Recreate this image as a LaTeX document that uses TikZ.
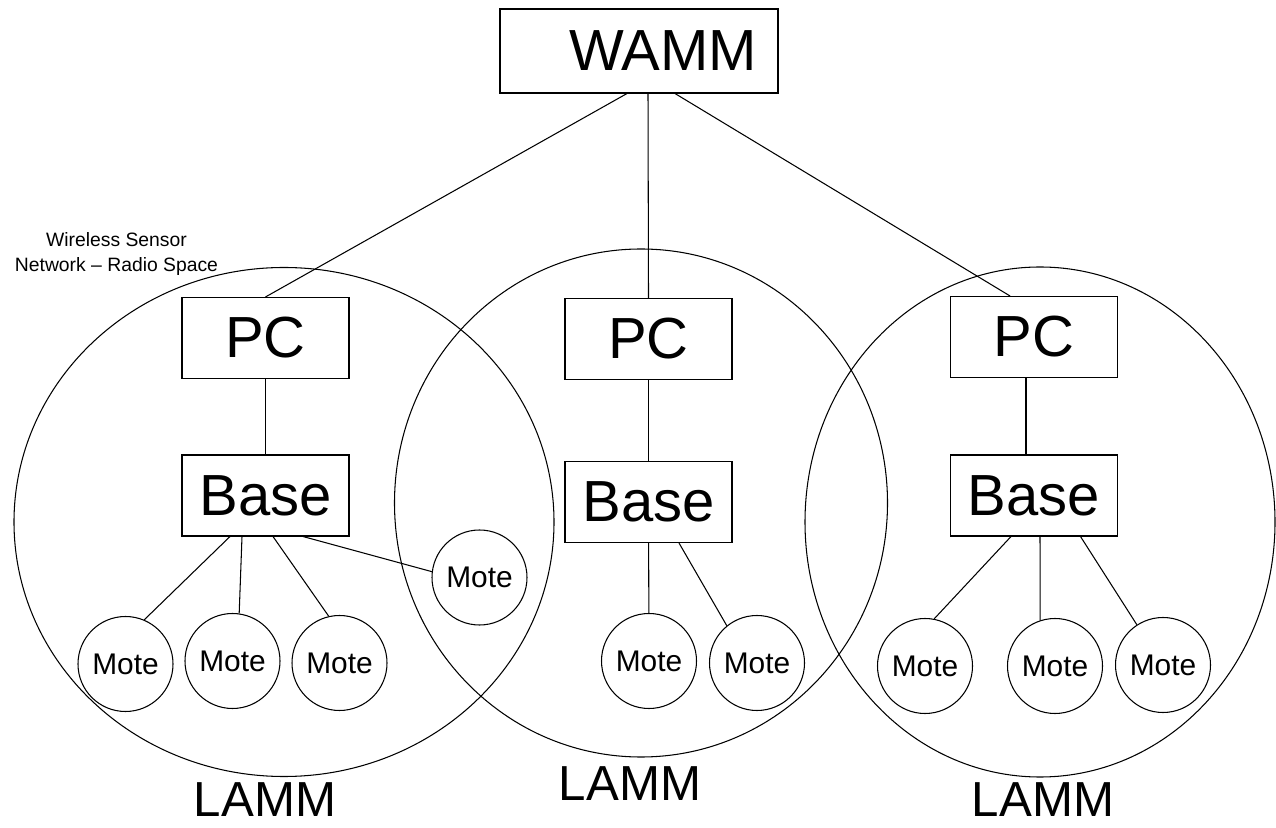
\documentclass[tikz,border=0pt]{standalone}
\usepackage{fontspec}
\setmainfont{Liberation Sans}
\usepackage{tikz}
\usetikzlibrary{shapes.geometric}

\begin{document}
\begin{tikzpicture}[
  box/.style={draw, line width=0.6pt, minimum width=3.34cm, minimum height=1.62cm, inner sep=0pt, font=\fontsize{33}{36}\selectfont},
  mote/.style={draw, circle, line width=0.6pt, minimum size=1.9cm, inner sep=0pt, font=\fontsize{17}{19}\selectfont},
  lamm/.style={font=\fontsize{28}{30}\selectfont},
  link/.style={line width=0.6pt}]
\useasboundingbox (0,0) rectangle (25.52,16.54);
\draw[link] (5.68,6.10) ellipse (5.4cm and 5.09cm);
\draw[link] (12.82,6.48) ellipse (4.93cm and 5.08cm);
\draw[link] (20.8,6.10) ellipse (4.7cm and 5.1cm);
\node[box, minimum width=5.56cm, minimum height=1.68cm, text width=4.72cm, align=right, inner xsep=0.42cm] (wamm) at (12.78,15.52) {WAMM};
\node[box] (pc1) at (5.31,9.78) {PC};
\node[box] (pc2) at (12.97,9.76) {PC};
\node[box] (pc3) at (20.68,9.80) {PC};
\node[box] (base1) at (5.31,6.63) {Base};
\node[box] (base2) at (12.97,6.50) {Base};
\node[box] (base3) at (20.68,6.63) {Base};
\node[mote] (ml1) at (2.51,3.26) {Mote};
\node[mote] (ml2) at (4.65,3.32) {Mote};
\node[mote] (ml3) at (6.79,3.28) {Mote};
\node[mote] (ml4) at (9.59,4.99) {Mote};
\node[mote] (mm1) at (12.98,3.32) {Mote};
\node[mote] (mm2) at (15.14,3.28) {Mote};
\node[mote] (mr1) at (18.5,3.22) {Mote};
\node[mote] (mr2) at (21.1,3.22) {Mote};
\node[mote] (mr3) at (23.26,3.24) {Mote};
\node[align=center, font=\fontsize{11}{13.7}\selectfont] (wsn) at (2.33,11.46) {Wireless Sensor\\Network – Radio Space};
\node[lamm] (lamm1) at (5.3,0.55) {LAMM};
\node[lamm] (lamm2) at (12.6,0.86) {LAMM};
\node[lamm] (lamm3) at (20.86,0.55) {LAMM};
\draw[link] ([xshift=-0.24cm]wamm.south) -- (pc1.north);
\draw[link] ([xshift=0.18cm]wamm.south) -- (pc2.north);
\draw[link] ([xshift=0.72cm]wamm.south) -- ([xshift=-0.48cm]pc3.north);
\draw[link] (pc1) -- (base1);
\draw[link] (pc2) -- (base2);
\draw[link] ([xshift=-0.16cm]pc3.south) -- ([xshift=-0.16cm]base3.north);
\draw[link] ([xshift=-0.71cm]base1.south) -- (ml1.67);
\draw[link] ([xshift=-0.47cm]base1.south) -- (ml2.82);
\draw[link] ([xshift=0.15cm]base1.south) -- (ml3.103);
\draw[link] ([xshift=0.75cm]base1.south) -- (ml4.173);
\draw[link] (base2) -- (mm1);
\draw[link] ([xshift=0.61cm]base2.south) -- (mm2.129);
\draw[link] ([xshift=-0.46cm]base3.south) -- (mr1.79);
\draw[link] ([xshift=0.12cm]base3.south) -- (mr2.108);
\draw[link] ([xshift=0.93cm]base3.south) -- (mr3.123);
\end{tikzpicture}
\end{document}
